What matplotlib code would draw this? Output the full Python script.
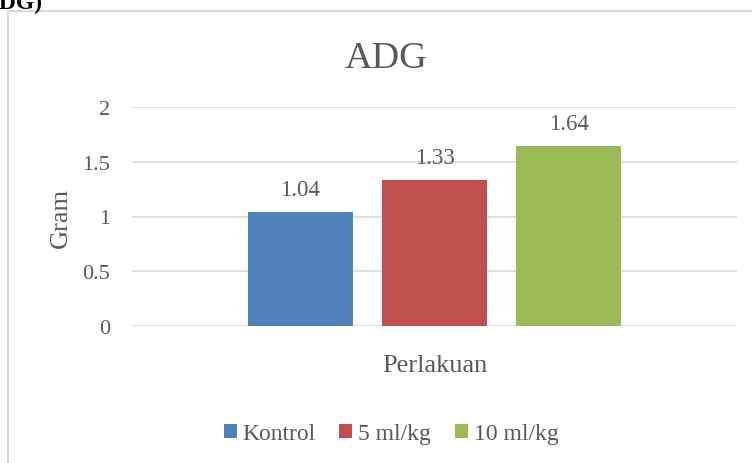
import matplotlib
matplotlib.use("Agg")
import matplotlib.pyplot as plt
from matplotlib.patches import Rectangle

categories = ["Kontrol", "5 ml/kg", "10 ml/kg"]
values = [1.04, 1.33, 1.64]
colors = ["#4f81bd", "#c0504d", "#9bbb59"]
yticks = [0, 0.5, 1, 1.5, 2]
ytick_labels = ["0", "0.5", "1", "1.5", "2"]

plt.rcParams["font.family"] = ["Liberation Serif", "DejaVu Serif"]
txt = "#595959"

W, H = 752, 464
fig = plt.figure(figsize=(W / 100, H / 100), dpi=100)
ax = fig.add_axes([132 / W, 1 - 327 / H, (737 - 132) / W, (327 - 108) / H])

x = list(range(len(categories)))
for i, (c, v, col) in enumerate(zip(categories, values, colors)):
    b = ax.bar(x[i], v, width=0.79, color=col, label=c, zorder=3)
    ax.bar_label(b, labels=[f"{v:.2f}"], padding=9, fontsize=16.5, color=txt)

ax.set_xlim(1 - 2.257, 1 + 2.257)
ax.set_ylim(0, 2)
ax.set_yticks(yticks)
ax.set_yticklabels(ytick_labels, fontsize=16, color=txt)
ax.tick_params(axis="y", length=0, pad=16)
ax.set_xticks([])
ax.grid(axis="y", color="#d9d9d9", linewidth=1.2, zorder=0)
for s in ax.spines.values():
    s.set_visible(False)

fig.text(386 / W, 1 - 68 / H, "ADG", ha="center", va="baseline", fontsize=27.5, color=txt)
ax.set_ylabel("Gram", fontsize=19, color=txt, labelpad=7)
ax.set_xlabel("Perlakuan", fontsize=19, color=txt, labelpad=20)

fig.legend(loc="center", bbox_to_anchor=(391 / W, 1 - 435 / H), ncol=3, frameon=False,
           fontsize=17, labelcolor=txt, handlelength=0.55, handleheight=0.55,
           handletextpad=0.25, columnspacing=1.0, borderaxespad=0)

fig.add_artist(Rectangle((8 / W, -0.1), 2, 1 - 12 / H + 0.1, transform=fig.transFigure,
                         fill=False, edgecolor="#d9d9d9", linewidth=1.5))

fig.text(42 / W, 1 - 9 / H, "(ADG)", ha="right", va="baseline", fontsize=17,
         fontweight="bold", color="black")

fig.savefig("out.png", dpi=100)
